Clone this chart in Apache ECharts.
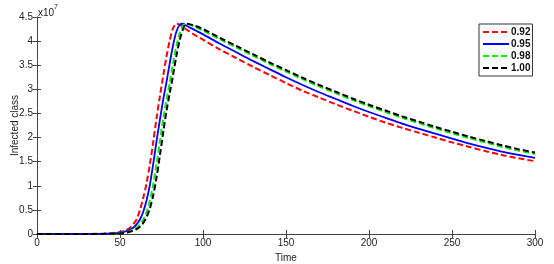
<!DOCTYPE html>
<html><head><meta charset="utf-8">
<script src="https://cdn.jsdelivr.net/npm/echarts@6/dist/echarts.min.js"></script>
<style>html,body{margin:0;padding:0;background:#fff}#c{width:554px;height:264px}</style>
</head><body><div id="c"></div>
<script>
const times = [0,10,20,30,40,45,50,54,56,58,60,62,64,66,68,70,72,74,76,78,80,82,84,86,88,90,95,100,110,120,130,140,150,160,170,180,190,200,210,220,230,240,250,260,270,280,290,300];
const s092 = [0,0,0,0.001,0.007,0.017,0.04,0.09,0.13,0.2,0.3,0.5,0.75,1.05,1.45,1.9,2.4,2.85,3.27,3.68,4.02,4.27,4.36,4.34,4.29,4.24,4.13,4.03,3.83,3.65,3.47,3.30,3.13,2.97,2.83,2.69,2.56,2.43,2.31,2.20,2.10,2.00,1.90,1.81,1.72,1.64,1.57,1.51];
const s095 = [0,0,0,0.0008,0.005,0.012,0.03,0.06,0.09,0.13,0.2,0.3,0.46,0.70,1.02,1.45,1.92,2.36,2.78,3.15,3.55,3.92,4.2,4.34,4.36,4.32,4.23,4.14,3.95,3.77,3.59,3.42,3.25,3.09,2.94,2.80,2.66,2.53,2.41,2.29,2.18,2.08,1.98,1.88,1.79,1.71,1.64,1.58];
const s098 = [0,0,0,0.0005,0.003,0.008,0.02,0.04,0.06,0.09,0.13,0.2,0.3,0.46,0.7,1.02,1.45,1.92,2.38,2.78,3.15,3.55,3.9,4.17,4.32,4.36,4.3,4.22,4.04,3.87,3.7,3.53,3.37,3.21,3.06,2.92,2.78,2.65,2.53,2.41,2.30,2.19,2.09,1.99,1.90,1.81,1.73,1.66];
const s100 = [0,0,0,0.0003,0.002,0.006,0.015,0.03,0.045,0.07,0.1,0.15,0.23,0.35,0.53,0.8,1.17,1.62,2.1,2.55,2.93,3.3,3.7,4.02,4.25,4.36,4.32,4.25,4.07,3.9,3.73,3.56,3.40,3.24,3.09,2.95,2.81,2.68,2.56,2.44,2.33,2.22,2.12,2.02,1.93,1.84,1.76,1.69];
const names = ['0.92','0.95','0.98','1.00'];
const xTicks = [0,50,100,150,200,250,300];
const yTicks = [0,0.5,1,1.5,2,2.5,3,3.5,4,4.5];

const font = 'Liberation Sans, Arial, sans-serif';
const pair = arr => times.map((t,i)=>[t,arr[i]]);
const axisLine = {show:true,lineStyle:{color:'#444',width:1}};
const tick = {show:true,inside:true,length:4,lineStyle:{color:'#444'}};
const chart = echarts.init(document.getElementById('c'), null, {renderer:'canvas'});
const mk = (name,data,color,type,w) => ({name,type:'line',data:pair(data),showSymbol:false,symbol:'none',smooth:0.3,
  lineStyle:{color,width:w,type},itemStyle:{color},animation:false});
chart.setOption({
  animation:false,
  grid:{left:37,right:19,top:17,bottom:30,containLabel:false,outerBoundsMode:'none'},
  xAxis:[{type:'value',min:0,max:300,interval:50,axisLine,axisTick:tick,splitLine:{show:false},
     axisLabel:{fontFamily:font,fontSize:10,color:'#222',margin:4},
     name:'Time',nameLocation:'middle',nameGap:19,nameMoveOverlap:false,nameTextStyle:{fontFamily:font,fontSize:10,color:'#222'}},
    {type:'value',position:'top',min:0,max:300,interval:50,axisLine,axisTick:tick,axisLabel:{show:false},splitLine:{show:false}}],
  yAxis:[{type:'value',min:0,max:4.5,interval:0.5,axisLine,axisTick:tick,splitLine:{show:false},
     axisLabel:{fontFamily:font,fontSize:10,color:'#222',margin:4,formatter:v=>String(v)},
     name:'Infected class',nameLocation:'middle',nameGap:17,nameMoveOverlap:false,nameTextStyle:{fontFamily:font,fontSize:10,color:'#222'}},
    {type:'value',position:'right',min:0,max:4.5,interval:0.5,axisLine,axisTick:tick,axisLabel:{show:false},splitLine:{show:false}}],
  legend:{orient:'vertical',left:479,top:24,data:names,borderColor:'#333',borderWidth:1,padding:[3,2,3,3],
    itemWidth:26,itemHeight:10,itemGap:2,backgroundColor:'#fff',itemStyle:{opacity:0},
    textStyle:{fontFamily:font,fontSize:10,fontWeight:'bold',color:'#111',padding:[0,0,0,-3]}},
  graphic:[{type:'text',left:38,top:4,style:{text:'{a|x10}{b|7}',rich:{a:{fontFamily:font,fontSize:10,fill:'#222',padding:[4,0,0,0]},b:{fontFamily:font,fontSize:7,fill:'#222',verticalAlign:'top'}}}}],
  series:[
    mk(names[0],s092,'#ff0000',[6,3],2),
    mk(names[1],s095,'#0000ff','solid',1.8),
    mk(names[2],s098,'#00ee00',[6,3],2),
    mk(names[3],s100,'#000000',[6,3],2)
  ]
});
</script></body></html>
